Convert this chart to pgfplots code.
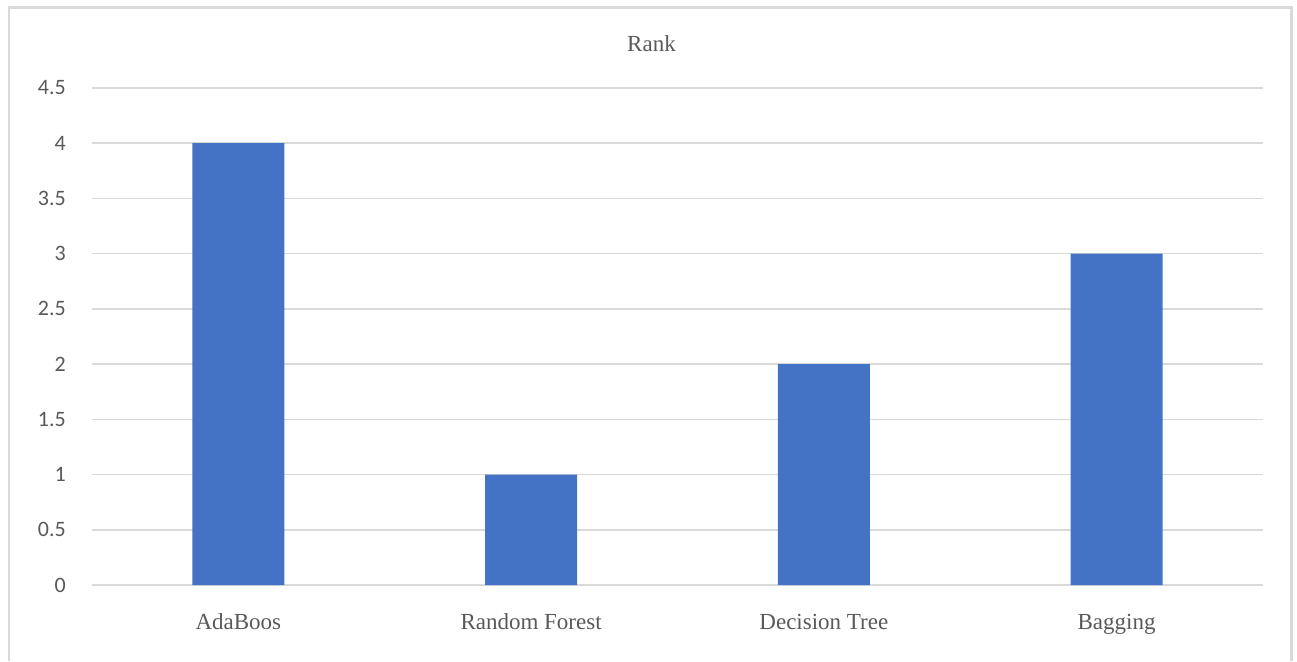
\documentclass[border=0pt]{standalone}
\usepackage{pgfplots}
\pgfplotsset{compat=1.18}
\usepackage{fontspec}
\setmainfont{Liberation Serif}
\newfontfamily\calib{Carlito}
\definecolor{barblue}{HTML}{4472C4}
\definecolor{gridgray}{HTML}{D9D9D9}
\definecolor{txtgray}{HTML}{595959}

\begin{document}
\begin{tikzpicture}
\useasboundingbox (0pt,0pt) rectangle (1297pt,661pt);
% chart frame, open at the bottom
\draw[gridgray, line width=2.5pt] (9pt,0pt) -- (9pt,653.5pt) -- (1291.5pt,653.5pt) -- (1291.5pt,0pt);
\begin{axis}[
  at={(92pt,76pt)}, anchor=south west,
  scale only axis, width=1171pt, height=497pt,
  ymin=0, ymax=4.5, ytick={0,0.5,...,4.5},
  xmin=-0.5, xmax=3.5, xtick={0,1,2,3},
  xticklabels={AdaBoos, Random Forest, Decision Tree, Bagging},
  axis line style={draw=none}, tick style={draw=none},
  ymajorgrids, grid style={gridgray, line width=1.5pt},
  /pgf/number format/assume math mode=true,
  yticklabel style={font=\calib\fontsize{22}{26}\selectfont, text=txtgray,
    anchor=east, inner sep=0pt, xshift=-26pt},
  xticklabel style={font=\fontsize{23}{27}\selectfont, text=txtgray,
    anchor=base, inner sep=0pt, yshift=-40pt},
  title={Rank},
  title style={font=\fontsize{23}{27}\selectfont, text=txtgray,
    at={(0.5,1)}, anchor=base, yshift=30pt, xshift=-26pt},
  ybar, bar width=92pt,
]
\addplot[fill=barblue, draw=none] coordinates {(0,4) (1,1) (2,2) (3,3)};
\end{axis}
\end{tikzpicture}
\end{document}
